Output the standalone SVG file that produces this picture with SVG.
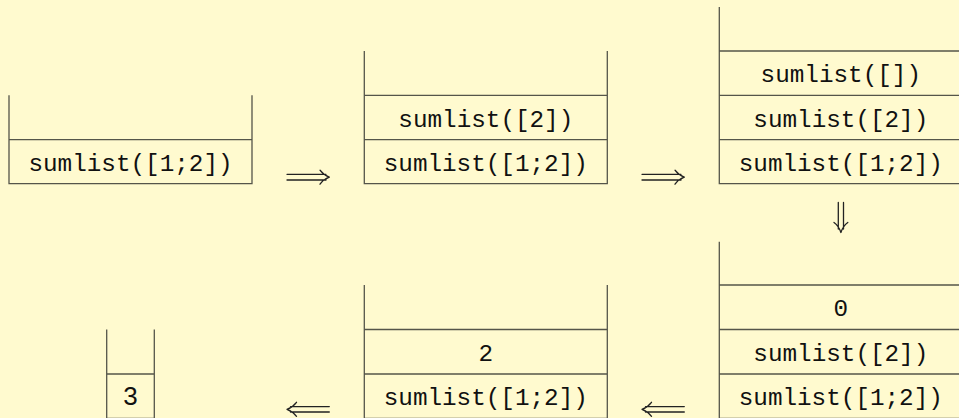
<svg xmlns="http://www.w3.org/2000/svg" width="959" height="418" viewBox="0 0 959 418">
<style>
.bg{fill:#fffacf}
.frame{fill:none;stroke:#55554a;stroke-width:1.3}
.tt{font-family:"Liberation Mono","DejaVu Sans Mono",monospace;font-size:24.3px;fill:#111;text-anchor:middle}
.sf{font-family:"Liberation Sans","Arial",sans-serif;font-size:26px;fill:#111;text-anchor:middle}
.arr{fill:none;stroke:#222;stroke-width:1.3;stroke-linecap:round;stroke-linejoin:round}
</style>
<rect class="bg" x="0" y="0" width="959" height="418"/>

<g id="stack1">
<path class="frame" d="M9,95.3V183.7H252V95.3M9,139.7H252"/>
<text class="tt" x="130.5" y="170.7">sumlist([1;2])</text>
</g>

<g id="stack2">
<path class="frame" d="M364.3,51V183.7H607.3V51M364.3,95.3H607.3M364.3,139.7H607.3"/>
<text class="tt" x="485.8" y="126.5">sumlist([2])</text>
<text class="tt" x="485.8" y="170.7">sumlist([1;2])</text>
</g>

<g id="stack3">
<path class="frame" d="M719.3,7V183.7H962.3M719.3,51H962.3M719.3,95.3H962.3M719.3,139.7H962.3"/>
<text class="tt" x="840.8" y="82.2">sumlist([])</text>
<text class="tt" x="840.8" y="126.5">sumlist([2])</text>
<text class="tt" x="840.8" y="170.7">sumlist([1;2])</text>
</g>

<g id="stack4">
<path class="frame" d="M719.3,241.7V418.5H962.3M719.3,285H962.3M719.3,329.5H962.3M719.3,374H962.3"/>
<text class="tt" x="840.8" y="316.2">0</text>
<text class="tt" x="840.8" y="360.7">sumlist([2])</text>
<text class="tt" x="840.8" y="405.2">sumlist([1;2])</text>
</g>

<g id="stack5">
<path class="frame" d="M364.3,285V418.5H607.3V285M364.3,329.5H607.3M364.3,374H607.3"/>
<text class="tt" x="485.8" y="360.7">2</text>
<text class="tt" x="485.8" y="405.2">sumlist([1;2])</text>
</g>

<g id="stack6">
<path class="frame" d="M106.7,329.5V418.5H154.3V329.5M106.7,374H154.3"/>
<text class="sf" x="130.5" y="404.5">3</text>
</g>

<g id="connectors">
<path class="arr" d="M287,174.3H326M287,180H326M320,170.2Q323.5,175 329.3,177.2Q323.5,179.4 320,184.2"/>
<path class="arr" d="M642,174.3H681M642,180H681M675,170.2Q678.5,175 684.3,177.2Q678.5,179.4 675,184.2"/>
<path class="arr" d="M838.3,202.5V229M843.5,202.5V229M834,222.5Q838.8,226 840.9,232.5Q843,226 847.8,222.5"/>
<path class="arr" d="M329.3,406.6H290.5M329.3,412H290.5M296.5,402.3Q293,407 287,409.3Q293,411.6 296.5,416.3"/>
<path class="arr" d="M684.3,406.6H645.5M684.3,412H645.5M651.5,402.3Q648,407 642,409.3Q648,411.6 651.5,416.3"/>
</g>
</svg>
